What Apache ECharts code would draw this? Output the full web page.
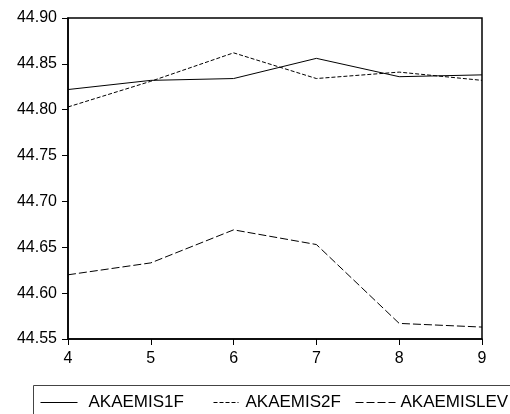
<!DOCTYPE html>
<html>
<head>
<meta charset="utf-8">
<title>AKAEMIS</title>
<script src="https://cdn.jsdelivr.net/npm/echarts@6/dist/echarts.min.js"></script>
<style>
    html, body { margin: 0; padding: 0; background: #fff; }
    #main { width: 510px; height: 414px; }
</style>
</head>
<body>
<div id="main"></div>
<script>
// 数据
var xValues = [4, 5, 6, 7, 8, 9];
var akaemis1f = [44.822, 44.832, 44.834, 44.856, 44.836, 44.838];
var akaemis2f = [44.803, 44.831, 44.862, 44.834, 44.841, 44.832];
var akaemislev = [44.620, 44.633, 44.669, 44.653, 44.567, 44.563];
var seriesNames = ['AKAEMIS1F', 'AKAEMIS2F', 'AKAEMISLEV'];

function pairs(ys) {
    var out = [];
    for (var i = 0; i < xValues.length; i++) {
        out.push([xValues[i], ys[i]]);
    }
    return out;
}

var myChart = echarts.init(document.getElementById('main'), null, { renderer: 'canvas' });
var font = 'Arial, "Liberation Sans", sans-serif';

// 图例公共设置
function legendItem(name, left, width, gap) {
    return {
        data: [name],
        left: left,
        top: 394,
        padding: 0,
        itemWidth: width,
        itemHeight: 10,
        itemStyle: { opacity: 0 },
        lineStyle: { width: 1 },
        textStyle: { color: '#000', fontSize: 17, fontFamily: font, padding: [0, 0, 0, gap] }
    };
}

var option = {
    backgroundColor: '#fff',
    animation: false,
    grid: {
        left: 68,
        right: 28,
        top: 18,
        bottom: 75,
        show: true,
        borderColor: '#000',
        borderWidth: 1.5,
        backgroundColor: 'transparent'
    },
    xAxis: {
        type: 'value',
        min: 4,
        max: 9,
        interval: 1,
        axisLine: { lineStyle: { color: '#000', width: 1.5 } },
        axisTick: { length: 6, lineStyle: { color: '#000', width: 1 } },
        axisLabel: { color: '#000', fontSize: 16, fontFamily: font, margin: 12 },
        splitLine: { show: false }
    },
    yAxis: {
        type: 'value',
        min: 44.55,
        max: 44.90,
        interval: 0.05,
        axisLine: { show: true, lineStyle: { color: '#000', width: 1.5 } },
        axisTick: { show: true, length: 6, lineStyle: { color: '#000', width: 1 } },
        axisLabel: {
            color: '#000', fontSize: 16, fontFamily: font, margin: 11,
            formatter: function(v) { return v.toFixed(2); }
        },
        splitLine: { show: false }
    },
    // 三个图例分开放，图标宽度不同
    legend: [
        legendItem(seriesNames[0], 40, 37, 6),
        legendItem(seriesNames[1], 213, 25, 2),
        legendItem(seriesNames[2], 355, 40, 0)
    ],
    graphic: [
        {
            type: 'rect',
            shape: { x: 33.5, y: 385.5, width: 500, height: 60 },
            style: { fill: 'none', stroke: '#444', lineWidth: 1 },
            silent: true
        }
    ],
    series: [
        {
            name: seriesNames[0],
            type: 'line',
            data: pairs(akaemis1f),
            symbol: 'none',
            itemStyle: { color: '#000' },
            lineStyle: { color: '#000', width: 1, type: 'solid' }
        },
        {
            name: seriesNames[1],
            type: 'line',
            data: pairs(akaemis2f),
            symbol: 'none',
            itemStyle: { color: '#000' },
            lineStyle: { color: '#000', width: 1, type: [4, 2] }
        },
        {
            name: seriesNames[2],
            type: 'line',
            data: pairs(akaemislev),
            symbol: 'none',
            itemStyle: { color: '#000' },
            lineStyle: { color: '#000', width: 1, type: [8, 3] }
        }
    ]
};
myChart.setOption(option);
</script>
</body>
</html>
